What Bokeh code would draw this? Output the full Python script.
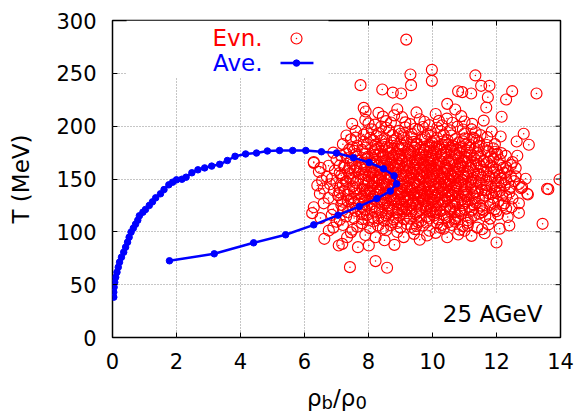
from bokeh.plotting import figure
from bokeh.layouts import column
from bokeh.models import Range1d, FixedTicker, Label, Div
from bokeh.embed import file_html
from bokeh.resources import INLINE

# ---------------- data ----------------
x_ticks = [0, 2, 4, 6, 8, 10, 12, 14]
y_ticks = [0, 50, 100, 150, 200, 250, 300]

# averaged trajectory (rho_b/rho_0, T [MeV])
ave_rho = [1.78, 3.18, 4.41, 5.41, 6.29, 7.05, 7.71, 8.26, 8.68, 8.88, 8.80, 8.47, 8.02, 7.53, 7.00,
           6.53, 6.04, 5.63, 5.22, 4.84, 4.50, 4.16, 3.83, 3.59, 3.35, 3.10, 2.88, 2.67, 2.48, 2.30,
           2.17, 2.00, 1.88, 1.76, 1.61, 1.50, 1.35, 1.25, 1.15, 1.03, 0.95, 0.84, 0.79, 0.72, 0.65,
           0.58, 0.52, 0.47, 0.41, 0.35, 0.28, 0.22, 0.18, 0.14, 0.10, 0.07, 0.05, 0.04, 0.04]
ave_T = [72.6, 79.2, 89.6, 97.2, 106.6, 115.8, 124.0, 131.5, 138.5, 145.4, 153.0, 159.7, 165.6, 170.2, 174.6,
         175.8, 177.0, 177.0, 177.0, 176.5, 174.6, 173.7, 171.5, 167.5, 163.9, 162.2, 160.5, 158.7, 155.9, 151.7,
         149.8, 149.2, 147.0, 144.5, 140.0, 136.0, 132.2, 128.4, 125.0, 121.1, 118.6, 115.2, 111.0, 107.2, 103.4,
         99.7, 94.9, 90.2, 85.5, 80.7, 76.0, 71.3, 66.5, 61.8, 57.0, 52.3, 47.6, 42.9, 38.2]

# event-by-event points (rho_b/rho_0, T [MeV])
evn_pairs = [
    # low outliers / bottom band
    (7.42, 66.6), (8.22, 72.3), (8.58, 66.0), (13.44, 107.6),
    (6.62, 93.4), (6.76, 101.2), (7.07, 87.1), (7.18, 88.6), (7.33, 94.9), (7.67, 85.5), (8.01, 87.1),
    (8.22, 94.9), (8.81, 87.7), (9.42, 98.1), (9.83, 96.5), (10.46, 94.9), (11.22, 96.2), (11.63, 98.7),
    (12.0, 89.9), (7.9, 97.0), (8.5, 92.0), (9.1, 95.0), (10.1, 99.0), (10.8, 97.5), (7.45, 99.5),
    (8.9, 99.8), (9.6, 92.5), (11.0, 101.0),
    # 100-110
    (6.9, 104.0), (7.2, 106.5), (7.5, 102.0), (7.8, 108.0), (8.05, 103.5), (8.3, 106.0), (8.55, 101.5),
    (8.75, 109.0), (9.0, 104.0), (9.2, 107.5), (9.45, 102.5), (9.7, 106.0), (9.9, 101.0), (10.15, 108.0),
    (10.35, 103.0), (10.6, 106.5), (10.85, 102.0), (11.1, 108.5), (11.4, 104.0), (11.75, 107.0),
    (12.1, 103.0), (7.0, 109.5), (8.15, 109.8), (9.55, 109.2), (10.7, 109.6), (12.4, 106.0),
    (8.3, 112.8), (8.7, 106.2), (9.1, 112.0), (9.5, 105.5), (9.9, 112.6), (10.3, 106.6), (10.7, 111.8),
    (11.1, 105.8), (7.8, 112.0),
    (7.65, 104.8), (8.45, 103.2), (8.9, 108.4), (9.35, 104.6), (9.8, 108.8), (10.25, 103.8), (10.5, 109.2),
    (10.95, 105.4), (11.55, 102.4),
    # 110-120
    (6.24, 117.7), (6.5, 113.0), (6.85, 116.0), (7.1, 111.5), (7.35, 118.5), (7.55, 113.0), (7.8, 116.5),
    (8.0, 111.0), (8.2, 119.0), (8.4, 114.0), (8.6, 117.5), (8.78, 111.8), (8.95, 115.5), (9.12, 119.2),
    (9.3, 112.5), (9.48, 116.8), (9.65, 110.5), (9.82, 114.2), (10.0, 118.5), (10.18, 111.8),
    (10.36, 116.0), (10.55, 119.5), (10.72, 113.0), (10.9, 117.0), (11.1, 111.0), (11.3, 115.5),
    (11.55, 118.5), (11.8, 112.5), (12.05, 116.5), (12.35, 114.0), (12.7, 118.0), (8.5, 110.6),
    (9.9, 119.6), (7.6, 119.8),
    (8.6, 121.8), (8.9, 118.2), (9.2, 121.4), (9.5, 118.6), (9.8, 121.8), (10.1, 118.2), (10.4, 121.6),
    (10.7, 118.6), (11.0, 121.2),
    (7.3, 114.6), (7.95, 115.8), (8.15, 113.2), (8.55, 115.6), (8.85, 113.4), (9.2, 115.2), (9.6, 113.8),
    (10.05, 115.4), (10.45, 113.6), (10.8, 115.2), (11.2, 113.4), (11.65, 114.8),
    (7.2, 120.6), (7.75, 119.2), (8.1, 121.8), (8.4, 118.6), (8.75, 120.2), (9.05, 121.2), (9.35, 119.4),
    (9.65, 121.6), (9.95, 120.4), (10.25, 119.6), (10.55, 121.2), (10.85, 119.2), (11.2, 119.8),
    (11.45, 117.2), (12.0, 119.6),
    # 120-130
    (6.29, 123.3), (6.6, 127.0), (6.9, 121.5), (7.15, 125.5), (7.35, 129.0), (7.5, 122.5), (7.7, 126.5),
    (7.88, 121.0), (8.05, 128.5), (8.2, 124.0), (8.35, 120.8), (8.5, 127.0), (8.65, 123.0), (8.8, 129.5),
    (8.92, 121.5), (9.05, 125.8), (9.2, 128.8), (9.33, 122.5), (9.47, 126.2), (9.6, 120.5), (9.72, 129.2),
    (9.85, 123.8), (9.98, 127.5), (10.12, 121.2), (10.25, 125.0), (10.4, 128.8), (10.55, 122.8),
    (10.7, 126.5), (10.85, 120.5), (11.0, 129.0), (11.15, 124.0), (11.35, 127.5), (11.55, 121.5),
    (11.6, 120.2), (11.8, 125.5), (12.05, 128.5), (12.3, 122.0), (12.47, 123.3), (12.7, 127.0),
    (7.95, 124.8), (8.55, 129.8), (9.4, 129.6), (10.05, 124.2), (10.62, 129.4), (11.25, 121.0),
    (8.42, 126.5), (8.7, 133.5), (8.95, 127.8), (9.15, 133.2), (9.38, 127.0), (9.62, 132.6), (9.88, 126.6),
    (10.1, 133.8), (10.32, 127.8), (10.52, 132.8), (10.78, 127.2), (9.5, 124.5), (10.0, 130.5),
    (7.55, 127.6), (7.8, 123.4), (8.1, 126.2), (8.28, 129.4), (8.6, 124.6), (8.85, 126.4), (9.1, 123.4),
    (9.28, 125.2), (9.55, 127.8), (9.78, 124.8), (10.18, 127.6), (10.45, 124.4), (10.65, 124.2),
    (10.95, 125.2), (11.25, 126.2), (11.5, 124.8), (11.9, 127.4), (12.2, 125.2),
    # 130-140
    (6.48, 136.0), (6.92, 139.1), (6.75, 132.0), (7.05, 134.5), (7.25, 138.5), (7.45, 131.0), (7.62, 136.0),
    (7.8, 133.0), (7.95, 139.0), (8.1, 131.5), (8.22, 135.5), (8.35, 138.8), (8.48, 132.5), (8.6, 136.5),
    (8.72, 130.5), (8.85, 134.0), (8.98, 138.0), (9.1, 131.8), (9.22, 135.2), (9.35, 139.2), (9.46, 133.0),
    (9.58, 136.8), (9.7, 130.8), (9.82, 134.6), (9.95, 138.5), (10.07, 132.2), (10.2, 136.0),
    (10.33, 139.5), (10.46, 131.5), (10.58, 135.4), (10.7, 138.8), (10.84, 133.0), (10.97, 136.5),
    (11.1, 130.8), (11.25, 134.8), (11.4, 138.2), (11.58, 132.0), (11.75, 136.5), (11.95, 139.0),
    (12.18, 134.4), (12.96, 136.0), (12.98, 135.3), (12.5, 131.5), (8.0, 136.8), (9.0, 130.2),
    (9.65, 139.6), (10.4, 134.0), (11.0, 139.8), (7.35, 135.0),
    (8.3, 141.8), (8.55, 137.5), (8.8, 143.5), (9.05, 137.2), (9.28, 142.8), (9.52, 137.6), (9.76, 143.2),
    (10.0, 137.0), (10.25, 142.6), (10.5, 137.8), (10.74, 143.0), (10.98, 137.4), (11.2, 142.2),
    (8.9, 140.2), (9.9, 140.4),
    (7.15, 131.6), (7.7, 130.4), (7.9, 134.8), (8.15, 133.6), (8.4, 130.6), (8.58, 134.4), (8.78, 131.8),
    (9.0, 135.6), (9.25, 130.6), (9.4, 134.6), (9.55, 131.2), (9.75, 135.8), (9.92, 131.4), (10.15, 134.8),
    (10.38, 130.6), (10.62, 134.2), (10.9, 130.4), (11.05, 133.6), (11.32, 131.6), (11.65, 134.4),
    (11.9, 132.2), (12.3, 133.6),
    (7.1, 137.2), (7.55, 138.6), (7.75, 136.2), (8.05, 138.4), (8.28, 137.2), (8.45, 135.2), (8.68, 139.4),
    (8.92, 136.2), (9.15, 138.6), (9.42, 136.4), (9.62, 134.8), (9.85, 137.2), (10.1, 139.6), (10.3, 136.8),
    (10.52, 139.4), (10.78, 135.8), (11.05, 135.2), (11.32, 137.6), (11.55, 139.6), (11.85, 136.2),
    (12.1, 138.6), (12.4, 137.2),
    # 140-150
    (6.4, 143.9), (6.55, 148.6), (6.8, 145.0), (7.1, 141.5), (7.3, 147.5), (7.5, 143.0), (7.68, 149.0),
    (7.82, 141.0), (7.98, 146.0), (8.12, 143.5), (8.25, 148.8), (8.38, 141.2), (8.5, 145.5), (8.63, 149.5),
    (8.75, 142.8), (8.88, 147.0), (9.0, 140.5), (9.12, 144.6), (9.24, 148.5), (9.36, 142.0), (9.48, 146.2),
    (9.6, 149.8), (9.72, 141.5), (9.84, 145.4), (9.96, 148.9), (10.08, 142.5), (10.2, 146.5),
    (10.32, 140.8), (10.44, 144.5), (10.56, 148.2), (10.68, 141.8), (10.8, 145.9), (10.93, 149.3),
    (11.06, 143.0), (11.2, 147.0), (11.35, 141.0), (11.5, 145.0), (11.68, 148.5), (11.85, 142.5),
    (12.05, 146.5), (12.25, 144.0), (12.77, 141.3), (12.8, 142.3), (13.58, 140.7), (13.62, 140.4),
    (12.91, 150.2), (13.97, 149.5), (12.55, 148.0), (8.05, 140.2), (9.3, 140.3), (10.6, 144.8), (9.9, 143.0),
    (8.2, 152.8), (8.45, 147.2), (8.7, 153.2), (8.95, 147.6), (9.18, 152.6), (9.42, 147.4), (9.66, 153.0),
    (9.9, 147.2), (10.14, 152.8), (10.38, 147.6), (10.62, 153.2), (10.86, 147.4), (11.1, 152.4),
    (11.35, 148.2), (9.55, 150.5), (10.25, 150.0),
    (7.2, 144.4), (7.62, 141.2), (7.88, 143.6), (8.18, 146.6), (8.42, 144.2), (8.58, 142.2), (8.82, 145.4),
    (9.05, 143.2), (9.2, 141.4), (9.55, 143.8), (9.78, 146.8), (10.02, 144.6), (10.28, 143.8),
    (10.5, 145.6), (10.72, 144.2), (11.0, 145.2), (11.25, 143.6), (11.45, 146.8), (11.7, 144.2),
    (11.98, 143.2), (12.15, 146.8), (12.45, 142.6),
    (7.42, 150.2), (7.85, 149.6), (8.1, 151.2), (8.35, 149.4), (8.55, 151.2), (8.8, 149.6), (9.08, 150.2),
    (9.32, 151.6), (9.7, 150.8), (9.92, 151.4), (10.35, 150.8), (10.7, 150.4), (10.98, 151.2),
    (11.22, 149.6), (11.55, 151.4), (11.95, 150.6), (12.3, 149.6), (12.45, 152.6),
    # 150-160
    (6.45, 156.8), (6.7, 152.0), (6.95, 158.0), (7.15, 153.5), (7.35, 157.5), (7.52, 151.0), (7.7, 155.0),
    (7.86, 159.0), (8.0, 152.5), (8.14, 156.2), (8.28, 150.5), (8.4, 154.5), (8.53, 158.5), (8.66, 151.8),
    (8.79, 155.6), (8.92, 159.3), (9.04, 152.8), (9.16, 156.6), (9.28, 150.3), (9.4, 154.0), (9.52, 157.8),
    (9.64, 151.5), (9.76, 155.2), (9.88, 159.0), (10.0, 152.6), (10.12, 156.4), (10.24, 150.6),
    (10.36, 154.4), (10.48, 158.2), (10.6, 151.8), (10.72, 155.8), (10.85, 159.4), (10.98, 153.0),
    (11.12, 157.0), (11.26, 151.2), (11.42, 155.0), (11.58, 158.8), (11.75, 152.5), (11.92, 156.5),
    (12.1, 154.0), (12.35, 158.0), (12.6, 152.5), (9.95, 159.8), (8.6, 159.7), (10.5, 150.2), (7.9, 153.8),
    (8.25, 157.8), (8.48, 162.6), (8.72, 157.4), (8.96, 162.4), (9.2, 157.8), (9.44, 162.8), (9.68, 157.4),
    (9.92, 162.6), (10.16, 157.6), (10.4, 162.4), (10.64, 157.8), (10.88, 162.8), (11.12, 157.2),
    (11.35, 162.2), (9.3, 160.0), (10.05, 160.2),
    (7.1, 155.6), (7.58, 157.4), (7.8, 154.6), (8.05, 155.8), (8.35, 156.8), (8.6, 154.4), (8.85, 156.4),
    (9.1, 154.6), (9.35, 155.8), (9.58, 154.4), (9.82, 156.6), (10.05, 154.6), (10.3, 156.2),
    (10.55, 154.8), (10.8, 156.8), (11.05, 154.6), (11.3, 156.4), (11.5, 153.6), (11.7, 156.8),
    (12.0, 158.6), (12.25, 155.6),
    # 160-170
    (6.29, 165.3), (6.29, 166.0), (6.75, 162.5), (7.0, 168.0), (7.25, 163.0), (7.45, 167.5), (7.62, 161.0),
    (7.8, 165.5), (7.95, 169.2), (8.1, 162.5), (8.24, 166.5), (8.38, 160.8), (8.52, 164.5), (8.65, 168.5),
    (8.78, 162.0), (8.9, 165.8), (9.03, 169.5), (9.15, 163.0), (9.27, 167.0), (9.4, 160.5), (9.52, 164.2),
    (9.64, 168.2), (9.76, 161.8), (9.88, 165.5), (10.0, 169.3), (10.13, 162.8), (10.26, 166.6),
    (10.39, 160.5), (10.52, 164.4), (10.65, 168.4), (10.78, 162.0), (10.92, 166.0), (11.06, 169.6),
    (11.2, 163.5), (11.36, 167.5), (11.52, 161.5), (11.7, 165.5), (11.9, 169.0), (12.1, 163.0),
    (12.02, 173.8), (12.29, 171.9), (12.5, 166.0), (8.45, 169.8), (9.6, 160.2), (10.8, 169.9), (7.5, 164.5),
    (8.3, 172.6), (8.55, 167.6), (8.8, 172.4), (9.05, 167.2), (9.3, 172.8), (9.54, 167.6), (9.78, 172.6),
    (10.02, 167.4), (10.26, 172.2), (10.5, 167.6), (10.74, 172.8), (10.98, 167.2), (11.22, 172.4),
    (9.65, 170.2),
    (7.1, 162.6), (7.4, 160.6), (7.9, 161.4), (8.15, 164.6), (8.32, 162.8), (8.62, 161.2), (8.85, 163.4),
    (9.08, 160.8), (9.25, 162.6), (9.48, 165.8), (9.72, 163.6), (9.95, 161.2), (10.2, 164.2),
    (10.45, 160.8), (10.7, 163.6), (10.95, 161.2), (11.18, 160.4), (11.45, 164.2), (11.82, 162.6),
    (12.2, 160.6), (12.45, 163.2),
    (7.35, 169.6), (7.7, 167.2), (7.9, 165.6), (8.2, 168.6), (8.42, 166.4), (8.7, 165.4), (8.95, 168.8),
    (9.2, 165.6), (9.45, 168.6), (9.7, 165.6), (9.92, 167.8), (10.15, 165.4), (10.38, 168.8), (10.6, 166.2),
    (10.85, 165.2), (11.1, 166.4), (11.3, 169.8), (11.6, 166.6), (11.82, 171.2), (12.1, 168.2),
    # 170-180
    (6.9, 175.0), (7.15, 172.0), (7.4, 178.0), (7.6, 173.5), (7.8, 177.5), (7.98, 171.0), (8.15, 175.5),
    (8.3, 179.2), (8.45, 172.8), (8.6, 176.5), (8.74, 170.5), (8.88, 174.2), (9.02, 178.0), (9.15, 171.8),
    (9.3, 175.5), (9.44, 179.5), (9.58, 173.0), (9.72, 176.8), (9.86, 170.6), (10.0, 174.5),
    (10.14, 178.3), (10.28, 172.0), (10.42, 175.8), (10.56, 179.6), (10.7, 173.5), (10.85, 177.2),
    (11.0, 171.2), (11.16, 175.0), (11.33, 178.8), (11.5, 172.5), (11.7, 176.5), (11.9, 179.0),
    (12.15, 174.5), (9.9, 179.8), (8.1, 170.3),
    (8.5, 182.6), (8.75, 178.4), (9.0, 183.8), (9.25, 178.2), (9.5, 182.4), (9.75, 177.8), (10.0, 183.6),
    (10.25, 178.0), (10.5, 182.8), (10.75, 178.6), (11.05, 182.6),
    (7.3, 174.4), (7.55, 176.6), (7.9, 173.8), (8.2, 172.8), (8.38, 176.2), (8.68, 174.6), (8.95, 172.4),
    (9.22, 174.2), (9.4, 176.8), (9.65, 174.6), (9.92, 176.2), (10.12, 173.2), (10.35, 174.6),
    (10.6, 176.8), (10.85, 174.2), (11.08, 176.8), (11.4, 174.4), (11.6, 178.4), (11.95, 175.8),
    # 180-190
    (7.2, 183.0), (7.45, 187.5), (7.65, 181.5), (7.85, 185.5), (8.05, 189.0), (8.22, 182.5), (8.4, 186.5),
    (8.57, 180.5), (8.72, 184.5), (8.88, 188.5), (9.04, 182.0), (9.2, 186.0), (9.35, 189.5), (9.5, 183.5),
    (9.66, 187.5), (9.82, 181.2), (9.98, 185.0), (10.14, 189.0), (10.3, 182.8), (10.47, 186.8),
    (10.64, 180.8), (10.82, 184.6), (11.0, 188.4), (11.18, 182.2), (11.38, 186.2), (11.45, 184.8),
    (11.71, 189.6), (11.95, 183.0), (12.63, 185.5), (13.01, 182.4), (12.13, 190.2), (10.2, 180.5),
    (7.5, 180.2), (7.9, 179.6), (8.2, 178.2), (8.42, 180.8), (8.65, 179.2), (8.92, 180.8), (9.12, 179.6),
    (9.38, 181.2), (9.62, 179.6), (9.9, 181.8), (10.12, 180.6), (10.38, 179.8), (10.62, 181.6),
    (10.9, 180.2), (11.15, 179.6), (11.45, 180.8), (11.7, 182.2),
    (7.6, 189.2), (7.95, 183.2), (8.15, 186.4), (8.5, 188.4), (8.8, 186.2), (9.1, 188.8), (9.42, 185.2),
    (9.78, 188.6), (10.05, 186.2), (10.4, 184.6), (10.72, 187.8), (10.95, 185.6), (11.25, 189.2),
    # 190-200
    (7.31, 191.2), (7.6, 195.5), (7.85, 192.0), (8.1, 197.0), (8.32, 193.5), (8.55, 198.5), (8.75, 191.5),
    (8.95, 195.5), (9.15, 199.0), (9.35, 192.5), (9.55, 196.5), (9.75, 190.5), (9.95, 194.5),
    (10.15, 198.5), (10.35, 192.0), (10.55, 196.0), (10.78, 199.5), (11.0, 193.0), (11.22, 197.0),
    (11.5, 191.5), (12.85, 192.8), (11.85, 195.0), (9.0, 192.8),
    (7.95, 194.2), (8.25, 190.6), (8.65, 195.8), (9.1, 191.4), (9.45, 197.6), (9.85, 192.4),
    (10.25, 195.4), (10.6, 191.2), (10.95, 196.8), (11.35, 194.2), (8.4, 199.6), (9.7, 199.2),
    # 200-220
    (7.49, 202.2), (7.9, 206.0), (8.2, 201.5), (8.45, 209.0), (8.7, 203.5), (9.05, 208.5), (9.3, 202.0),
    (9.6, 206.5), (9.9, 201.0), (10.2, 205.0), (10.62, 203.2), (10.9, 209.5), (11.24, 202.2),
    (11.6, 205.3), (12.16, 208.9), (7.85, 217.3), (7.91, 213.9), (8.31, 212.6), (10.46, 221.1),
    (10.71, 215.8), (11.68, 217.7), (9.5, 213.0), (8.9, 216.0), (10.1, 211.5),
    (8.0, 202.6), (8.55, 204.8), (9.15, 203.6), (9.75, 204.2), (10.45, 207.2), (11.0, 204.4),
    (8.8, 210.2), (10.3, 200.8),
    # inner left (inside the loop) and right flank
    (7.2, 150.5), (7.4, 155.2), (7.6, 146.5), (7.75, 160.5), (7.4, 140.5), (7.55, 131.5), (7.2, 128.5),
    (7.0, 146.2), (6.85, 150.2), (7.9, 129.5), (8.1, 158.8), (8.0, 147.8), (7.65, 171.2), (7.25, 161.0),
    (6.6, 141.0), (6.5, 160.5),
    (11.45, 131.8), (11.65, 139.2), (11.8, 150.2), (11.9, 160.8), (11.6, 167.2), (11.75, 176.2),
    (12.0, 136.8), (12.15, 150.4), (12.3, 161.2), (12.4, 140.5), (11.3, 188.5), (11.95, 121.5),
    (12.25, 127.0), (12.6, 160.3), (12.7, 145.3), (12.65, 172.0),
    # top outliers
    (9.18, 281.9), (9.31, 248.9), (9.98, 253.3), (9.98, 242.9), (9.33, 238.8), (7.75, 238.8),
    (8.43, 234.7), (8.76, 231.8), (9.02, 230.9), (11.34, 248.0), (11.52, 238.2), (11.78, 238.2),
    (11.73, 227.4), (10.8, 233.0), (10.93, 232.2), (11.21, 230.9), (12.49, 233.1), (12.3, 225.2),
    (13.25, 230.9),
]
evn_rho = [pt[0] for pt in evn_pairs]
evn_T = [pt[1] for pt in evn_pairs]

energy_label = "25 AGeV"

# ---------------- figure ----------------
FONT = "DejaVu Sans"
TICK_FS = "21px"
FS = "23px"
RED = "#ff0000"
BLUE = "#0000ff"

X0, X1, Y0, Y1 = 0, 14, 0, 300
p = figure(width=574, height=385, x_range=Range1d(X0, X1), y_range=Range1d(Y0, Y1),
           output_backend="svg", toolbar_location=None,
           min_border_left=112, min_border_right=14, min_border_top=20, min_border_bottom=48)
p.background_fill_color = "white"
p.border_fill_color = "white"
p.outline_line_color = "black"
p.outline_line_width = 1.5

for ax in (p.xaxis[0], p.yaxis[0]):
    ax.axis_line_color = None
    ax.major_tick_in = 5
    ax.major_tick_out = 0
    ax.minor_tick_line_color = None
    ax.major_tick_line_color = "black"
    ax.major_tick_line_width = 1
    ax.major_label_text_font = FONT
    ax.major_label_text_font_size = TICK_FS
    ax.major_label_text_color = "black"
p.xaxis[0].major_label_standoff = 15
p.yaxis[0].major_label_standoff = 16
p.xaxis[0].ticker = FixedTicker(ticks=x_ticks)
p.yaxis[0].ticker = FixedTicker(ticks=y_ticks)
p.yaxis[0].axis_label = "T (MeV)"
p.yaxis[0].axis_label_text_font = FONT
p.yaxis[0].axis_label_text_font_size = FS
p.yaxis[0].axis_label_text_font_style = "normal"
p.yaxis[0].axis_label_text_color = "black"
p.yaxis[0].axis_label_standoff = 19

p.xgrid.ticker = FixedTicker(ticks=x_ticks[1:-1])
p.ygrid.ticker = FixedTicker(ticks=y_ticks[1:-1])
for g in (p.xgrid, p.ygrid):
    g.grid_line_color = "#8c8c8c"
    g.grid_line_dash = "1 2"
    g.grid_line_width = 1

# mirrored ticks on top and right frame edges (5 px long, pointing inward)
tick_dy = 5 * (Y1 - Y0) / 317.0
tick_dx = 5 * (X1 - X0) / 448.0
p.segment(x0=x_ticks, y0=[Y1] * len(x_ticks), x1=x_ticks, y1=[Y1 - tick_dy] * len(x_ticks),
          line_color="black", line_width=1)
p.segment(x0=[X1] * len(y_ticks), y0=y_ticks, x1=[X1 - tick_dx] * len(y_ticks), y1=y_ticks,
          line_color="black", line_width=1)

# opaque key box and label box (hide the grid like gnuplot's opaque key)
p.quad(left=[0.44], right=[6.75], bottom=[246], top=[300], fill_color="white", line_color=None)
p.quad(left=[9.75], right=[13.85], bottom=[4], top=[42], fill_color="white", line_color=None)

# events
p.scatter(evn_rho, evn_T, marker="circle", size=11, fill_color=None, line_color=RED, line_width=1.15)
p.scatter(evn_rho, evn_T, marker="circle", size=1.5, fill_color=RED, line_color=None)

# average trajectory
p.line(ave_rho, ave_T, line_color=BLUE, line_width=2.5)
p.scatter(ave_rho, ave_T, marker="circle", size=6.5, fill_color=BLUE, line_color=BLUE)

# key (gnuplot style: text left, sample right)
p.add_layout(Label(x=4.69, y=283.4, text="Evn.", text_align="right", text_baseline="middle",
                   text_font=FONT, text_font_size=FS, text_color=RED))
p.add_layout(Label(x=4.69, y=259.7, text="Ave.", text_align="right", text_baseline="middle",
                   text_font=FONT, text_font_size=FS, text_color=BLUE))
p.scatter([5.75], [283.0], marker="circle", size=11, fill_color=None, line_color=RED, line_width=1.15)
p.scatter([5.75], [283.0], marker="circle", size=1.5, fill_color=RED, line_color=None)
p.line([5.25, 6.28], [259.7, 259.7], line_color=BLUE, line_width=2.5)
p.scatter([5.75], [259.7], marker="circle", size=6.5, fill_color=BLUE, line_color=BLUE)

# energy label
p.add_layout(Label(x=11.88, y=22, text=energy_label, text_align="center", text_baseline="middle",
                   text_font=FONT, text_font_size=FS, text_color="black"))

# x-axis title rho_b / rho_0 with real subscripts, in a strip below the plot
SUB = "font-size:18px;vertical-align:-3px;line-height:0;"
xtitle = Div(
    text='<span style="font-family:\'DejaVu Sans\';font-size:23px;color:black;line-height:22px;">'
         'ρ<span style="' + SUB + '">b</span>/ρ<span style="' + SUB + '">0</span></span>',
    width=574, height=30, margin=0,
    styles={"padding-left": "307px", "padding-top": "2px", "line-height": "22px",
            "background-color": "white", "box-sizing": "border-box", "overflow": "visible"},
)

layout = column(p, xtitle, spacing=0)
open("out.html", "w").write(file_html(layout, INLINE))
